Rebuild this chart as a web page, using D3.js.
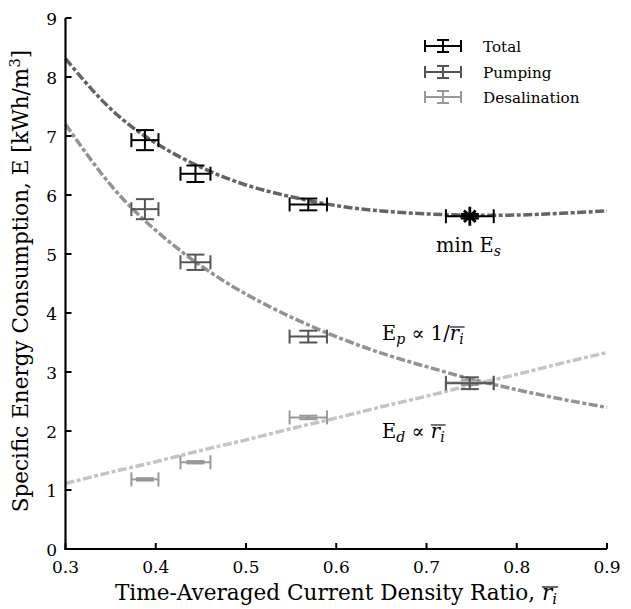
<!DOCTYPE html>
<html>
<head>
<meta charset="utf-8">
<script src="https://cdn.jsdelivr.net/npm/d3@7"></script>
<style>
  body { margin: 0; background: #fff; }
  svg { display: block; }
</style>
</head>
<body>
<svg id="chart" width="631" height="609" font-family="'DejaVu Serif', serif"></svg>
<script>
// ---- data ----
const xTicks = [0.3, 0.4, 0.5, 0.6, 0.7, 0.8, 0.9];
const yTicks = [0, 1, 2, 3, 4, 5, 6, 7, 8, 9];

const rMeas = [0.388, 0.444, 0.569, 0.748];
const rErr = [0.015, 0.0166, 0.0207, 0.0265];

const eTotal = [6.93, 6.36, 5.84, 5.64];
const eTotalErr = [0.17, 0.14, 0.10, 0.04];
const ePump = [5.76, 4.86, 3.60, 2.81];
const ePumpErr = [0.17, 0.13, 0.10, 0.10];
const eDesal = [1.18, 1.47, 2.23, 2.82];
const eDesalErr = [0.02, 0.02, 0.03, 0.04];

const fitR = [0.30, 0.35, 0.40, 0.45, 0.50, 0.55, 0.60, 0.65, 0.70, 0.75, 0.80, 0.85, 0.90];
const fitTotal = [8.31, 7.46, 6.88, 6.47, 6.17, 5.97, 5.82, 5.73, 5.68, 5.66, 5.66, 5.69, 5.73];
const fitPump = [7.20, 6.17, 5.40, 4.80, 4.32, 3.93, 3.60, 3.32, 3.09, 2.88, 2.70, 2.54, 2.40];
const fitDesal = [1.11, 1.30, 1.48, 1.67, 1.85, 2.04, 2.22, 2.41, 2.59, 2.78, 2.96, 3.15, 3.33];

const seriesNames = ["Total", "Pumping", "Desalination"];
const barColors = ["#000000", "#555555", "#999999"];
const fitColors = ["#646464", "#939393", "#c4c4c4"];

// ---- layout ----
const svg = d3.select("#chart");
const x = d3.scaleLinear().domain([0.3, 0.9]).range([65.5, 607]);
const y = d3.scaleLinear().domain([0, 9]).range([549, 18]);

// fit curves
const line = d3.line().x(d => x(d[0])).y(d => y(d[1])).curve(d3.curveNatural);
const fits = [fitTotal, fitPump, fitDesal];
fits.forEach((f, k) => {
  svg.append("path")
    .datum(fitR.map((r, i) => [r, f[i]]))
    .attr("d", line)
    .attr("fill", "none")
    .attr("stroke", fitColors[k])
    .attr("stroke-width", 3.5)
    .attr("stroke-dasharray", "9,2.5,4,2.5");
});

// error bars
const series = [
  { e: eTotal, err: eTotalErr },
  { e: ePump, err: ePumpErr },
  { e: eDesal, err: eDesalErr }
];
const capY = 9, capX = 7;
function errorBar(g, cx, cy, x0, x1, y0, y1, color) {
  const gg = g.append("g").attr("stroke", color).attr("stroke-width", 2).attr("fill", "none");
  gg.append("line").attr("x1", x0).attr("x2", x1).attr("y1", cy).attr("y2", cy);
  gg.append("line").attr("x1", x0).attr("x2", x0).attr("y1", cy - capX).attr("y2", cy + capX);
  gg.append("line").attr("x1", x1).attr("x2", x1).attr("y1", cy - capX).attr("y2", cy + capX);
  gg.append("line").attr("x1", cx).attr("x2", cx).attr("y1", y0).attr("y2", y1);
  gg.append("line").attr("x1", cx - capY).attr("x2", cx + capY).attr("y1", y0).attr("y2", y0);
  gg.append("line").attr("x1", cx - capY).attr("x2", cx + capY).attr("y1", y1).attr("y2", y1);
}
const bars = svg.append("g");
[2, 1, 0].forEach(k => {
  const s = series[k];
  rMeas.forEach((r, i) => {
    errorBar(bars, x(r), y(s.e[i]), x(r - rErr[i]), x(r + rErr[i]),
      y(s.e[i] + s.err[i]), y(s.e[i] - s.err[i]), barColors[k]);
  });
});

// minimum marker (asterisk) on the last total point
const mi = 3;
const star = svg.append("g")
  .attr("transform", `translate(${x(rMeas[mi])},${y(eTotal[mi])})`)
  .attr("stroke", "#000").attr("stroke-width", 2.8).attr("fill", "none");
star.append("path").attr("d", d3.symbol(d3.symbolPlus, 120)());
star.append("path").attr("d", d3.symbol(d3.symbolTimes, 90)());

// axes
const axisG = svg.append("g");
axisG.append("line").attr("x1", x(0.3)).attr("x2", x(0.3)).attr("y1", y(9)).attr("y2", y(0) + 1)
  .attr("stroke", "#000").attr("stroke-width", 2.2);
axisG.append("line").attr("x1", x(0.3) - 1).attr("x2", x(0.9)).attr("y1", y(0)).attr("y2", y(0))
  .attr("stroke", "#000").attr("stroke-width", 2.2);
yTicks.forEach(t => {
  axisG.append("line").attr("x1", x(0.3)).attr("x2", x(0.3) + 6).attr("y1", y(t)).attr("y2", y(t))
    .attr("stroke", "#000").attr("stroke-width", 2);
  axisG.append("text").attr("x", 57).attr("y", y(t) + 6.5).attr("text-anchor", "end")
    .attr("font-size", 17).text(t);
});
xTicks.forEach(t => {
  axisG.append("line").attr("x1", x(t)).attr("x2", x(t)).attr("y1", y(0)).attr("y2", y(0) - 6)
    .attr("stroke", "#000").attr("stroke-width", 2);
  axisG.append("text").attr("x", x(t)).attr("y", 573).attr("text-anchor", "middle")
    .attr("font-size", 17).text(t.toFixed(1));
});

// x-axis label
const xl = svg.append("text").attr("x", 336).attr("y", 600).attr("text-anchor", "middle").attr("font-size", 21.6);
xl.append("tspan").text("Time-Averaged Current Density Ratio, ");
xl.append("tspan").attr("font-style", "italic").text("r");
xl.append("tspan").attr("font-style", "italic").attr("font-size", 15).attr("dy", 4).text("i");
{
  const n = xl.node();
  const len = n.getNumberOfChars();
  const a = n.getStartPositionOfChar(len - 2).x;
  const b = n.getEndPositionOfChar(len - 1).x;
  svg.append("line").attr("x1", a).attr("x2", b + 1).attr("y1", 587).attr("y2", 587)
    .attr("stroke", "#000").attr("stroke-width", 1.2);
}

// y-axis label
const yl = svg.append("text").attr("transform", "translate(28,281) rotate(-90)")
  .attr("text-anchor", "middle").attr("font-size", 21.5);
yl.append("tspan").text("Specific Energy Consumption, E [kWh/m");
yl.append("tspan").attr("font-size", 15).attr("dy", -8).text("3");
yl.append("tspan").attr("dy", 8).text("]");

// legend
const legY = [46, 72, 97];
seriesNames.forEach((name, k) => {
  const cy = legY[k], cx = 443;
  const g = svg.append("g").attr("stroke", barColors[k]).attr("stroke-width", 2).attr("fill", "none");
  g.append("line").attr("x1", 425).attr("x2", 461).attr("y1", cy).attr("y2", cy);
  g.append("line").attr("x1", 425).attr("x2", 425).attr("y1", cy - 6).attr("y2", cy + 6);
  g.append("line").attr("x1", 461).attr("x2", 461).attr("y1", cy - 6).attr("y2", cy + 6);
  g.append("line").attr("x1", cx).attr("x2", cx).attr("y1", cy - 6).attr("y2", cy + 6);
  g.append("line").attr("x1", cx - 6).attr("x2", cx + 6).attr("y1", cy - 6).attr("y2", cy - 6);
  g.append("line").attr("x1", cx - 6).attr("x2", cx + 6).attr("y1", cy + 6).attr("y2", cy + 6);
  svg.append("text").attr("x", 483).attr("y", cy + 5.5).attr("font-size", 15.2).text(name);
});

// annotations
function overlineLast(textSel, yLine) {
  const n = textSel.node();
  const len = n.getNumberOfChars();
  const a = n.getStartPositionOfChar(len - 2).x;
  const b = n.getEndPositionOfChar(len - 1).x;
  svg.append("line").attr("x1", a).attr("x2", b + 1).attr("y1", yLine).attr("y2", yLine)
    .attr("stroke", "#000").attr("stroke-width", 1.1);
}

const a1 = svg.append("text").attr("x", 436).attr("y", 252).attr("font-size", 19.5);
a1.append("tspan").text("min E");
a1.append("tspan").attr("font-style", "italic").attr("font-size", 14).attr("dy", 4).text("s");

const a2 = svg.append("text").attr("x", 382).attr("y", 340).attr("font-size", 19.5);
a2.append("tspan").text("E");
a2.append("tspan").attr("font-style", "italic").attr("font-size", 14).attr("dy", 4).text("p");
a2.append("tspan").attr("dy", -4).text(" \u221D 1/");
a2.append("tspan").attr("font-style", "italic").text("r");
a2.append("tspan").attr("font-style", "italic").attr("font-size", 14).attr("dy", 4).text("i");
overlineLast(a2, 327);

const a3 = svg.append("text").attr("x", 382).attr("y", 438).attr("font-size", 19.5);
a3.append("tspan").text("E");
a3.append("tspan").attr("font-style", "italic").attr("font-size", 14).attr("dy", 4).text("d");
a3.append("tspan").attr("dy", -4).text(" \u221D ");
a3.append("tspan").attr("font-style", "italic").text("r");
a3.append("tspan").attr("font-style", "italic").attr("font-size", 14).attr("dy", 4).text("i");
overlineLast(a3, 425);
</script>
</body>
</html>
